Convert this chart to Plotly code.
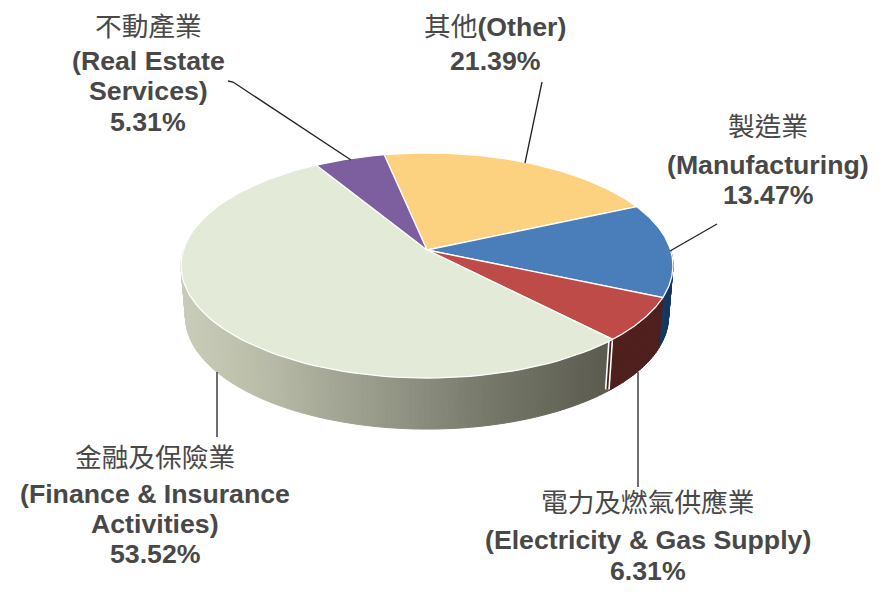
import numpy as np
import plotly.graph_objects as go

names_zh = ["其他", "製造業", "電力及燃氣供應業", "金融及保險業", "不動產業"]
names_en = ["(Other)", "(Manufacturing)", "(Electricity & Gas Supply)", "(Finance & Insurance Activities)", "(Real Estate Services)"]
shares = [21.39, 13.47, 6.31, 53.52, 5.31]
top_colors = ["#FCD17F", "#4A7EBB", "#BE4B48", "#E4EAD8", "#7D5FA0"]
wall_colors = ["#B59550", "#17375E", "#4E1F1C", None, "#4F3A68"]

TEXT = "#484848"
FONT = "Liberation Sans, Noto Sans CJK TC, sans-serif"

# pie projection, in pixels of the page
CX, CY = 427, 250
A, B, K = 243.6, 110.4, 0.138
START = -11.5
DEPTH = 51
RIM = 0.982  # bottom rim is a bit narrower than the top
# the page body has an 8px margin, the axes make up for it
PAGE_MARGIN = 8


def project(phi):
    # phi is degrees clockwise from the back of the pie
    t = np.radians(90 - phi)
    w = 1 + K * np.sin(t)
    return CX + A * np.cos(t) / w, CY - B * np.sin(t) / w


def rim_x(x):
    return CX + (x - CX) * RIM


def fin_shade(x):
    stops_x = [181, 250, 370, 490, 605]
    stops_c = [(201, 205, 185), (188, 192, 171), (154, 156, 140), (118, 120, 106), (92, 93, 80)]
    c = [np.interp(x, stops_x, [s[i] for s in stops_c]) for i in range(3)]
    return "rgb(%d,%d,%d)" % tuple(c)


fig = go.Figure()

edges = START + np.cumsum([0] + shares) * 360 / sum(shares)

# side wall first, the tops go over it
for i in [4, 0, 1, 3, 2]:
    steps = np.arange(edges[i], edges[i + 1], 1.0)
    steps = np.append(steps, edges[i + 1])
    for p0, p1 in zip(steps[:-1], steps[1:]):
        x0, y0 = project(p0)
        x1, y1 = project(p1)
        if y0 < CY and y1 < CY:
            continue
        color = wall_colors[i] or fin_shade((x0 + x1) / 2)
        fig.add_trace(go.Scatter(
            x=[x0, x1, rim_x(x1), rim_x(x0), x0], y=[y0, y1, y1 + DEPTH, y0 + DEPTH, y0],
            mode="lines", fill="toself", fillcolor=color,
            line=dict(color=color, width=1), hoverinfo="skip"))

# seam where the red slice meets the finance wall: white, dark sliver, white
x_seam, y_seam = project(edges[3])
seam_x = [x_seam - 2, rim_x(x_seam) - 2]
seam_y = [y_seam + 1, y_seam + DEPTH - 1]
fig.add_trace(go.Scatter(
    x=seam_x, y=seam_y, mode="lines",
    line=dict(color="white", width=5), hoverinfo="skip"))
fig.add_trace(go.Scatter(
    x=seam_x, y=seam_y, mode="lines",
    line=dict(color=wall_colors[2], width=1.8), hoverinfo="skip"))

for i in range(len(shares)):
    phi = np.linspace(edges[i], edges[i + 1], 90)
    xs, ys = project(phi)
    fig.add_trace(go.Scatter(
        x=np.r_[CX, xs, CX], y=np.r_[CY, ys, CY],
        mode="lines", fill="toself", fillcolor=top_colors[i],
        line=dict(color="white", width=1.3),
        name=names_zh[i], text=names_en[i], hoverinfo="name+text"))

# leader lines
leaders = [
    ([228, 233, 351], [81, 82, 160]),
    ([542, 525], [82, 163]),
    ([717, 670], [224, 251]),
    ([638, 638], [372, 487]),
    ([217, 217], [372, 437]),
]
for lx, ly in leaders:
    fig.add_trace(go.Scatter(
        x=lx, y=ly, mode="lines",
        line=dict(color="#222222", width=1.3), hoverinfo="skip"))

# label rows: text, centre x, centre y
rows = [
    (names_zh[4], 148, 27),
    ("<b>(Real Estate</b>", 148, 61),
    ("<b>Services)</b>", 148, 91),
    ("<b>%.2f%%</b>" % shares[4], 148, 122),
    (names_zh[0] + "<b>" + names_en[0] + "</b>", 495, 27),
    ("<b>%.2f%%</b>" % shares[0], 495, 61),
    (names_zh[1], 768, 127),
    ("<b>" + names_en[1] + "</b>", 768, 165),
    ("<b>%.2f%%</b>" % shares[1], 768, 195),
    (names_zh[2], 648, 503),
    ("<b>" + names_en[2] + "</b>", 648, 540),
    ("<b>%.2f%%</b>" % shares[2], 648, 571),
    (names_zh[3], 155, 458),
    ("<b>(Finance &amp; Insurance</b>", 155, 494),
    ("<b>Activities)</b>", 155, 524),
    ("<b>%.2f%%</b>" % shares[3], 155, 554),
]
for txt, x, y in rows:
    fig.add_annotation(
        x=x, y=y, text=txt, showarrow=False, xanchor="center", yanchor="middle",
        font=dict(family=FONT, size=26.7, color=TEXT))

fig.update_layout(
    width=885, height=597, showlegend=False,
    margin=dict(l=0, r=0, t=0, b=0),
    paper_bgcolor="white", plot_bgcolor="white",
    xaxis=dict(range=[PAGE_MARGIN, 885 + PAGE_MARGIN], visible=False, fixedrange=True),
    yaxis=dict(range=[597 + PAGE_MARGIN, PAGE_MARGIN], visible=False, fixedrange=True),
)

fig.write_html("out.html")
